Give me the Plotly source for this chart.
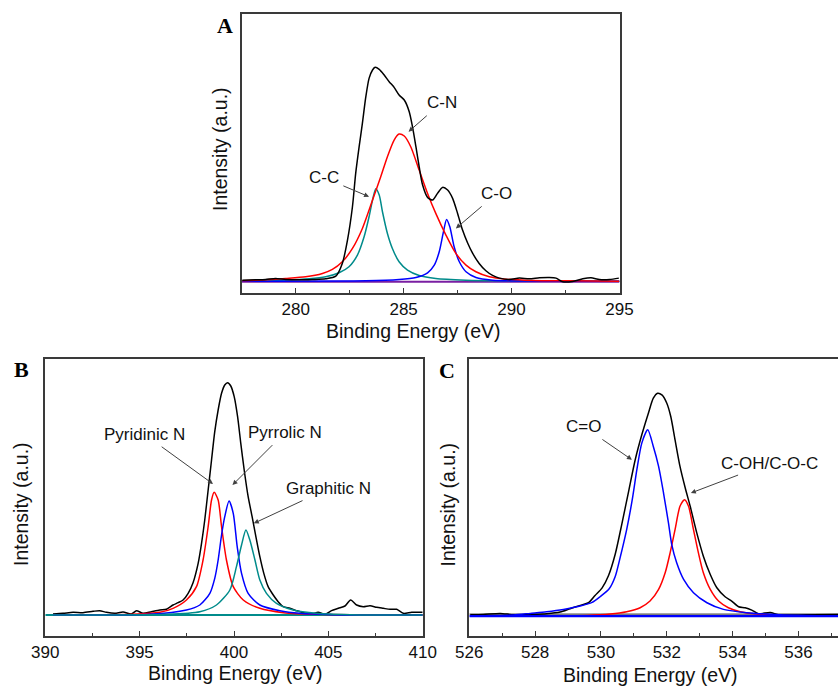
import plotly.graph_objects as go

# ---------------- Panel A : C 1s ----------------
a_black_x = [277.53, 278.14, 278.61, 279.07, 279.54, 280.15, 280.77, 281.39, 281.86, 282.16, 282.40, 282.63,
             282.78, 282.94, 283.09, 283.25, 283.40, 283.56, 283.68, 283.87, 284.10, 284.33, 284.56, 284.79,
             285.03, 285.26, 285.41, 285.57, 285.72, 285.88, 286.11, 286.34, 286.57, 286.80, 287.04, 287.27,
             287.50, 287.73, 287.96, 288.20, 288.50, 288.81, 289.12, 289.43, 289.90, 290.36, 290.82, 291.29,
             291.75, 292.06, 292.37, 292.83, 293.30, 293.68, 294.07, 294.54, 294.97]
a_black_y = [3, 4, 5, 8, 5, 4, 5, 7, 15, 53, 123, 223,
             323, 403, 473, 553, 608, 633, 641, 635, 618, 598, 581, 558,
             543, 508, 463, 403, 343, 288, 251, 243, 263, 281, 273, 248,
             203, 153, 115, 83, 53, 31, 17, 9, 5, 9, 7, 10,
             11, 9, -2, -1, 7, 10, 5, 5, 9]

a_cn_x = [277.53, 278.61, 279.54, 280.46, 281.24, 281.70, 282.16, 282.63, 283.09, 283.56, 283.94, 284.25,
          284.56, 284.79, 285.03, 285.33, 285.72, 286.11, 286.49, 286.96, 287.42, 287.89, 288.35, 288.97,
          289.74, 290.98, 292.53, 295.00]
a_cn_y = [1, 4, 8, 13, 23, 35, 58, 98, 158, 243, 313, 373,
          423, 441, 435, 403, 333, 263, 203, 138, 83, 48, 28, 13,
          6, 2, 1, 0]

a_cc_x = [277.53, 279.38, 280.62, 281.39, 282.01, 282.47, 282.86, 283.17, 283.40, 283.56, 283.71, 283.87,
          284.02, 284.25, 284.48, 284.79, 285.18, 285.72, 286.49, 287.89, 289.43, 295.00]
a_cc_y = [0, 3, 7, 13, 25, 43, 78, 133, 193, 243, 277, 258,
          208, 143, 98, 58, 33, 17, 8, 3, 1, 0]

a_co_x = [277.53, 283.25, 284.79, 285.57, 286.11, 286.42, 286.65, 286.83, 286.99, 287.14, 287.34, 287.58,
          287.89, 288.35, 289.12, 290.98, 295.00]
a_co_y = [0, 1, 5, 11, 25, 48, 88, 143, 185, 163, 103, 58,
          28, 11, 3, 0, 0]

a_base_x = [277.5, 295.0]
a_base_y = [-2, -2]

a_ticks = [280, 285, 290, 295]

# ---------------- Panel B : N 1s ----------------
b_black_x = [390.41, 390.94, 391.47, 392.00, 392.53, 392.88, 393.24, 393.68, 394.12, 394.56, 394.83, 395.18,
             395.62, 396.07, 396.42, 396.77, 397.04, 397.30, 397.57, 397.83, 398.10, 398.28, 398.45, 398.63,
             398.81, 398.98, 399.16, 399.34, 399.51, 399.66, 399.83, 400.01, 400.19, 400.36, 400.54, 400.75,
             400.96, 401.16, 401.37, 401.58, 401.81, 402.08, 402.34, 402.61, 402.96, 403.32, 403.67, 404.11,
             404.46, 404.82, 405.17, 405.53, 405.88, 406.18, 406.50, 406.85, 407.21, 407.56, 407.91, 408.27,
             408.62, 408.97, 409.42, 410.00]
b_black_y = [3, 5, 8, 7, 11, 13, 8, 5, 9, 3, 13, 5,
             10, 15, 17, 30, 37, 45, 65, 97, 155, 215, 285, 375,
             465, 550, 615, 665, 690, 697, 687, 655, 595, 515, 435, 355,
             295, 235, 175, 125, 85, 60, 40, 25, 20, 13, 7, 3,
             8, 2, 13, 20, 27, 45, 30, 25, 28, 23, 20, 17,
             17, 5, 8, 8]

b_pyridinic_x = [390.41, 394.65, 396.07, 396.77, 397.48, 398.01, 398.36, 398.63, 398.81, 398.95, 399.16, 399.34,
                 399.60, 399.96, 400.49, 401.37, 402.61, 404.38, 410.00]
b_pyridinic_y = [0, 2, 8, 20, 45, 85, 165, 265, 345, 368, 345, 265,
                 165, 85, 45, 20, 7, 2, 0]

b_pyrrolic_x = [390.41, 395.53, 397.48, 398.19, 398.72, 398.98, 399.16, 399.34, 399.51, 399.74, 399.96, 400.17,
                400.40, 400.75, 401.37, 402.43, 403.49, 405.26, 410.00]
b_pyrrolic_y = [0, 2, 15, 30, 65, 110, 165, 240, 295, 342, 305, 205,
                125, 65, 30, 13, 5, 1, 0]

b_graphitic_x = [390.41, 396.42, 398.19, 399.07, 399.78, 400.13, 400.40, 400.63, 400.84, 401.11, 401.37, 401.72,
                 402.25, 403.14, 404.38, 406.14, 410.00]
b_graphitic_y = [0, 2, 10, 30, 75, 145, 210, 255, 225, 165, 105, 65,
                 35, 15, 5, 1, 0]

b_base_x = [390.0, 410.0]
b_base_y = [0, 0]

b_ticks = [390, 395, 400, 405, 410]

# ---------------- Panel C : O 1s ----------------
c_black_x = [526.03, 526.43, 526.94, 527.34, 527.85, 528.35, 528.76, 529.06, 529.37, 529.62, 529.82, 530.03,
             530.23, 530.43, 530.63, 530.84, 531.04, 531.24, 531.44, 531.59, 531.72, 531.85, 532.00, 532.12,
             532.25, 532.40, 532.56, 532.71, 532.91, 533.11, 533.32, 533.52, 533.77, 533.97, 534.18, 534.38,
             534.58, 534.78, 535.14, 535.39, 535.85, 536.46, 537.20]
c_black_y = [4, 5, 8, 4, 5, 7, 12, 22, 32, 40, 62, 84,
             122, 185, 275, 375, 470, 545, 610, 655, 670, 665, 640, 600,
             530, 450, 385, 330, 250, 180, 125, 85, 58, 45, 28, 25,
             18, 7, 11, 4, 3, 4, 5]

c_co_x = [526.03, 527.34, 527.85, 528.35, 528.86, 529.37, 529.73, 529.97, 530.25, 530.43, 530.58, 530.78,
          530.95, 531.09, 531.24, 531.42, 531.59, 531.75, 531.90, 532.05, 532.15, 532.30, 532.51, 532.81,
          533.22, 533.72, 534.43, 535.44, 537.20]
c_co_y = [1, 3, 8, 13, 20, 30, 41, 58, 82, 118, 175, 260,
          350, 440, 520, 560, 510, 450, 370, 280, 215, 160, 110, 70,
          40, 20, 10, 4, 0]

c_coh_x = [526.03, 529.57, 530.28, 530.78, 531.19, 531.49, 531.75, 531.95, 532.10, 532.25, 532.40, 532.54,
           532.66, 532.81, 532.96, 533.11, 533.32, 533.57, 533.87, 534.23, 534.73, 535.65, 537.20]
c_coh_y = [0, 2, 6, 13, 25, 45, 80, 130, 190, 260, 330, 350,
           330, 260, 190, 130, 80, 45, 25, 13, 6, 1, 0]

c_base_x = [526.0, 537.2]
c_base_y = [0, 0]
c_base2_y = [6, 6]

c_ticks = [526, 528, 530, 532, 534, 536]

# ---------------- Figure ----------------
W, H = 838, 689
FRAME = "#3a3a3a"
TICKFONT = dict(family="Liberation Sans, Arial, sans-serif", size=17, color="#111111")
TITLEFONT = dict(family="Liberation Sans, Arial, sans-serif", size=19.5, color="#111111")
LABELFONT = dict(family="Liberation Serif, Times New Roman, serif", size=22, color="#000000")

RED, BLUE, TEAL, BLACK = "#ff0000", "#0000ff", "#008b8b", "#000000"

fig = go.Figure()


def add(x, y, color, axis, width=1.5):
    fig.add_trace(go.Scatter(x=x, y=y, mode="lines", xaxis="x" + axis, yaxis="y" + axis,
                             line=dict(color=color, width=width, shape="spline", smoothing=0.7),
                             showlegend=False, hoverinfo="skip"))


# A
add(a_base_x, a_base_y, "#7a1fa2", "", 2)
add(a_cc_x, a_cc_y, TEAL, "")
add(a_co_x, a_co_y, BLUE, "")
add(a_cn_x, a_cn_y, RED, "")
add(a_black_x, a_black_y, BLACK, "")
# B
add(b_base_x, b_base_y, TEAL, "2", 2.2)
add(b_black_x, b_black_y, BLACK, "2")
add(b_pyridinic_x, b_pyridinic_y, RED, "2")
add(b_pyrrolic_x, b_pyrrolic_y, BLUE, "2")
add(b_graphitic_x, b_graphitic_y, TEAL, "2")
# C
add(c_base_x, c_base2_y, "#505050", "3", 1.2)
add(c_black_x, c_black_y, BLACK, "3")
add(c_coh_x, c_coh_y, RED, "3")
add(c_co_x, c_co_y, BLUE, "3")
add(c_base_x, c_base_y, BLUE, "3", 2.2)


def px(x):
    return x / W


def py(y):
    return 1 - y / H


def xaxis(domain, rng, ticks, minor_dt, anchor):
    return dict(domain=domain, range=rng, anchor=anchor, tickmode="array", tickvals=ticks,
                ticks="inside", ticklen=5, tickwidth=1.2, tickcolor=FRAME,
                minor=dict(ticks="inside", ticklen=3, tickwidth=1.2, tickcolor=FRAME, dtick=minor_dt,
                           tick0=ticks[0]),
                showline=True, linecolor=FRAME, linewidth=1.5, mirror=True, automargin=False,
                showgrid=False, zeroline=False, tickfont=TICKFONT, fixedrange=True)


def yaxis(domain, rng, anchor, mirror=True):
    return dict(domain=domain, range=rng, anchor=anchor, showticklabels=False, ticks="",
                showline=True, linecolor=FRAME, linewidth=1.5, mirror=mirror, automargin=False,
                showgrid=False, zeroline=False, fixedrange=True)


fig.update_layout(
    template="none",
    width=W, height=H,
    margin=dict(l=0, r=0, t=0, b=0, pad=0),
    paper_bgcolor="white", plot_bgcolor="white",
    xaxis=xaxis([px(241.7), px(619.5)], [277.5, 295], a_ticks, 2.5, "y"),
    yaxis=yaxis([py(292.8), py(14.3)], [-35, 800], "x"),
    xaxis2=xaxis([px(45.3), px(422.7)], [390, 410], b_ticks, 2.5, "y2"),
    yaxis2=yaxis([py(636), py(359)], [-63, 768], "x2"),
    xaxis3=xaxis([px(469.3), 1.0], [526, 537.2], c_ticks, 1, "y3"),
    yaxis3=yaxis([py(636), py(359)], [-60, 773], "x3", mirror=False),
)

ann = []


def text(x, y, s, font, angle=0):
    ann.append(dict(x=px(x), y=py(y), xref="paper", yref="paper", text=s, showarrow=False,
                    font=font, textangle=angle, xanchor="center", yanchor="middle"))


# panel letters
text(225, 26, "<b>A</b>", LABELFONT)
text(21, 369, "<b>B</b>", LABELFONT)
text(447, 370, "<b>C</b>", LABELFONT)
# axis titles
text(220, 149, "Intensity (a.u.)", TITLEFONT, -90)
text(413.5, 331, "Binding Energy (eV)", TITLEFONT)
text(21, 504, "Intensity (a.u.)", TITLEFONT, -90)
text(235, 673, "Binding Energy (eV)", TITLEFONT)
text(447.5, 505, "Intensity (a.u.)", TITLEFONT, -90)
text(650, 675, "Binding Energy (eV)", TITLEFONT)

PEAKFONT = dict(family="Liberation Sans, Arial, sans-serif", size=17, color="#111111")


def arrow(x, y, axis, s, ax, ay):
    ann.append(dict(x=x, y=y, xref="x" + axis, yref="y" + axis, text=s, showarrow=True,
                    ax=ax, ay=ay, arrowhead=2, arrowsize=1, arrowwidth=1, arrowcolor="#404040",
                    startstandoff=3, font=PEAKFONT))


arrow(285.23, 448, "", "C-N", 33, -29)
arrow(283.40, 253, "", "C-C", -45, -19)
arrow(287.42, 158, "", "C-O", 41, -35)
arrow(398.89, 393, "2", "Pyridinic N", -69, -50)
arrow(399.92, 390, "2", "Pyrrolic N", 53, -53)
arrow(401.05, 275, "2", "Graphitic N", 75, -35)
arrow(530.94, 470, "3", "C=O", -48, -33)
arrow(532.73, 370, "3", "C-OH/C-O-C", 79, -30)

fig.update_layout(annotations=ann)

fig.write_html(
    "out.html",
    config={"displayModeBar": False},
    post_script="document.body.style.margin='0';document.body.style.overflow='hidden';",
)
